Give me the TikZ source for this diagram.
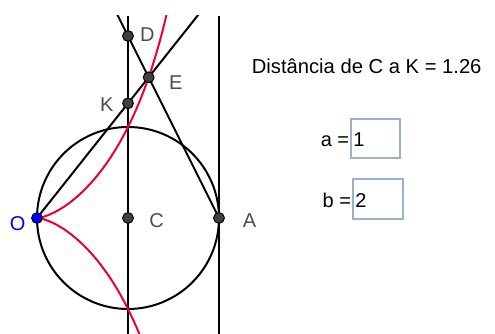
\documentclass[tikz,border=0pt]{standalone}
\usepackage{fontspec}
\setmainfont{Liberation Sans}
\usetikzlibrary{calc,backgrounds}
\definecolor{ptgray}{RGB}{64,64,64}
\definecolor{lblgray}{RGB}{77,77,77}
\definecolor{crv}{RGB}{235,0,55}
\definecolor{boxblue}{RGB}{155,178,205}
\begin{document}
\begin{tikzpicture}[x=45.5pt,y=45.5pt,
  pt/.style={circle,draw=black,fill=ptgray,inner sep=0pt,minimum size=5.4pt,line width=0.5pt},
  lbl/.style={text=lblgray,inner sep=0pt},
  ln/.style={line width=1pt},
  valbox/.style={draw=boxblue,line width=0.8pt,inner sep=0pt,anchor=north west}]
\useasboundingbox (-1.4066,-1.2747) rectangle (4.0330,2.3956);
% points
\coordinate (top1) at (0,2.2198);
\coordinate (bot1) at (0,-1.2747);
\coordinate (top2) at (1,2.2198);
\coordinate (bot2) at (1,-1.2747);
\node[pt,fill=blue] (O) at (-1,0) {};
\node[pt] (C) at (0,0) {};
\node[pt] (A) at (1,0) {};
\node[pt] (D) at (0,2) {};
\node[pt] (K) at (0,1.2599) {};
\node[pt] (E) at (0.2270,1.5460) {};
% lines and curve
\begin{scope}[on background layer]
\clip (-1.4066,-1.2747) rectangle (4.0330,2.2198);
\draw[ln] (C.center) circle (1);
\draw[ln] (top1) -- (bot1);
\draw[ln] (top2) -- (bot2);
\draw[ln] (O.center) -- ($(O.center)!2!(E.center)$);
\draw[ln] (A.center) -- ($(A.center)!2!(D.center)$);
\draw[ln,crv,domain=-1.2:1.6,samples=150] plot({2*\x*\x/(1+\x*\x)-1},{2*\x*\x*\x/(1+\x*\x)});
\end{scope}
% labels
\node[lbl] (lD) at (0.212,2.014) {D};
\node[lbl] (lE) at (0.525,1.489) {E};
\node[lbl] (lK) at (-0.234,1.245) {K};
\node[lbl] (lC) at (0.315,-0.031) {C};
\node[lbl] (lA) at (1.335,-0.033) {A};
\node[lbl,text=blue] (lO) at (-1.212,-0.064) {O};
% text and input boxes
\node[inner sep=0pt,anchor=base west,font=\fontsize{10.1}{12}\selectfont] (dist) at (1.357,1.590) {Distância de C a K = 1.26};
\node[valbox,minimum width=24.5pt,minimum height=19.5pt] (boxa) at (2.440,1.099) {};
\node[valbox,minimum width=25pt,minimum height=20pt] (boxb) at (2.462,0.440) {};
\node[inner sep=0pt,anchor=base east] (la) at (2.435,0.786) {a =};
\node[inner sep=0pt,anchor=base west] (va) at (2.473,0.786) {1};
\node[inner sep=0pt,anchor=base east] (lb) at (2.455,0.118) {b =};
\node[inner sep=0pt,anchor=base west] (vb) at (2.495,0.118) {2};
\end{tikzpicture}
\end{document}
